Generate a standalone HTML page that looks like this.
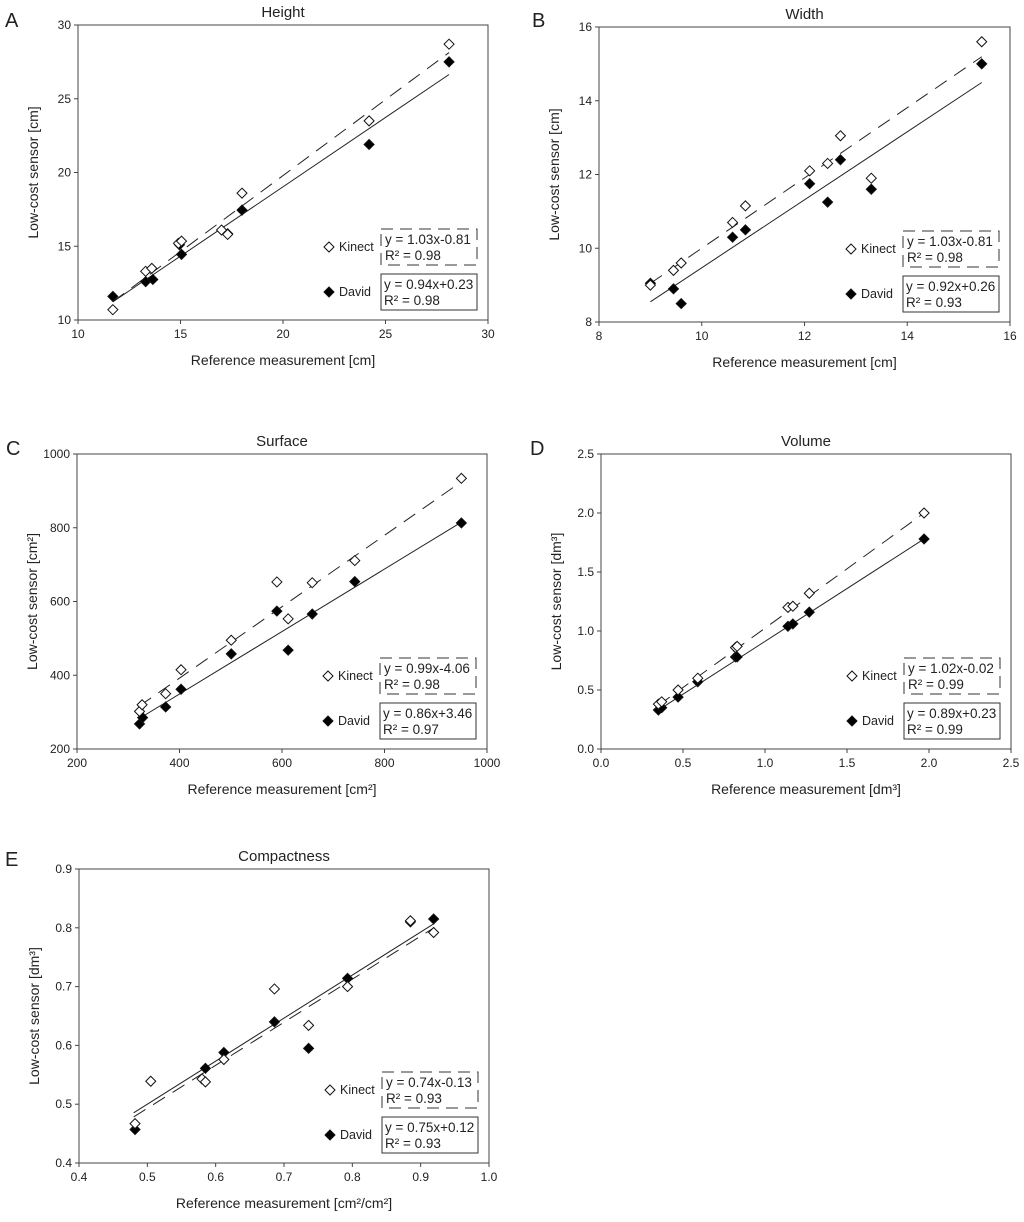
<!DOCTYPE html>
<html><head><meta charset="utf-8"><style>
body{margin:0;background:#fff;}
svg text{font-family:"Liberation Sans",Arial,sans-serif;fill:#222;}
</style></head><body>
<svg id="fig" width="1024" height="1217" viewBox="0 0 1024 1217" xmlns="http://www.w3.org/2000/svg"></svg>
<script>
// Panel A - Height
const hKinX=[11.7,13.3,13.6,14.9,15.05,17,17.3,18,24.2,28.1];
const hKinY=[10.7,13.3,13.5,15.2,15.35,16.1,15.8,18.6,23.5,28.7];
const hDavX=[11.7,13.3,13.65,14.95,15.05,17.3,18,24.2,28.1];
const hDavY=[11.6,12.6,12.75,15.1,14.45,15.85,17.45,21.9,27.5];
const hTicksX=[10,15,20,25,30];const hTicksY=[10,15,20,25,30];
const hFitK=[1.03,-0.81];const hFitD=[0.94,0.23];const hFitRange=[11.7,28.1];
// Panel B - Width
const wKinX=[9.0,9.45,9.6,10.6,10.85,12.1,12.45,12.7,13.3,15.45];
const wKinY=[9.0,9.4,9.6,10.7,11.15,12.1,12.3,13.05,11.9,15.6];
const wDavX=[9.0,9.45,9.6,10.6,10.85,12.1,12.45,12.7,13.3,15.45];
const wDavY=[9.05,8.9,8.5,10.3,10.5,11.75,11.25,12.4,11.6,15.0];
const wTicksX=[8,10,12,14,16];const wTicksY=[8,10,12,14,16];
const wFitK=[0.953,0.47];const wFitD=[0.922,0.25];const wFitRange=[9.0,15.45];
// Panel C - Surface
const sKinX=[322,327,373,403,501,590,612,659,742,950];
const sKinY=[302,320,350,415,495,653,553,651,711,934];
const sDavX=[322,328,373,403,501,590,612,659,742,950];
const sDavY=[268,285,314,362,458,574,468,566,654,813];
const sTicksX=[200,400,600,800,1000];const sTicksY=[200,400,600,800,1000];
const sFitK=[0.968,5];const sFitD=[0.847,10.3];const sFitRange=[322,950];
// Panel D - Volume
const vKinX=[0.35,0.37,0.47,0.59,0.82,0.83,1.14,1.17,1.27,1.97];
const vKinY=[0.38,0.40,0.50,0.60,0.86,0.87,1.20,1.21,1.32,2.00];
const vDavX=[0.35,0.37,0.47,0.59,0.82,0.83,1.14,1.17,1.27,1.97];
const vDavY=[0.33,0.35,0.44,0.57,0.78,0.78,1.04,1.06,1.16,1.78];
const vTicksX=["0.0","0.5","1.0","1.5","2.0","2.5"];const vTicksY=["0.0","0.5","1.0","1.5","2.0","2.5"];
const vFitK=[1.006,0.018];const vFitD=[0.895,0.017];const vFitRange=[0.35,1.97];
// Panel E - Compactness
const cKinX=[0.482,0.505,0.58,0.585,0.612,0.686,0.736,0.793,0.885,0.919];
const cKinY=[0.467,0.539,0.543,0.538,0.576,0.696,0.634,0.700,0.812,0.792];
const cDavX=[0.482,0.585,0.612,0.686,0.736,0.793,0.885,0.919];
const cDavY=[0.457,0.561,0.588,0.640,0.595,0.714,0.810,0.815];
const cTicksX=["0.4","0.5","0.6","0.7","0.8","0.9","1.0"];const cTicksY=["0.4","0.5","0.6","0.7","0.8","0.9"];
const cFitK=[0.732,0.127];const cFitD=[0.732,0.134];const cFitRange=[0.48,0.92];

const NS='http://www.w3.org/2000/svg';
const svg=document.getElementById('fig');
function mk(tag,attrs,parent,txt){const e=document.createElementNS(NS,tag);for(const k in attrs)e.setAttribute(k,attrs[k]);if(txt!==undefined)e.textContent=txt;(parent||svg).appendChild(e);return e;}

function panel(p){
  const g=mk('g',{});
  
  
  const L=p.box[0],R=p.box[1],T=p.box[2],B=p.box[3];
  const x0=+p.tx[0],x1=+p.tx[p.tx.length-1],y0=+p.ty[0],y1=+p.ty[p.ty.length-1];
  const sx=v=>L+(v-x0)/(x1-x0)*(R-L);
  const sy=v=>B-(v-y0)/(y1-y0)*(B-T);
  const lt=mk('text',{x:p.letter[0],y:p.letter[1],'font-size':20},g,p.letterText);
  
  
  const tt=mk('text',{x:(L+R)/2,y:T-8,'font-size':15,'text-anchor':'middle'},g,p.title);
  
  
  const box=mk('rect',{x:L,y:T,width:R-L,height:B-T,fill:'none',stroke:'#444','stroke-width':1},g);
  
  
  p.tx.forEach(t=>{const x=sx(+t);
    mk('line',{x1:x,x2:x,y1:B,y2:B+4,stroke:'#444'},g);
    const e=mk('text',{x:x,y:B+18,'font-size':12,'text-anchor':'middle'},g,t);
    
    });
  p.ty.forEach(t=>{const y=sy(+t);
    mk('line',{x1:L-4,x2:L,y1:y,y2:y,stroke:'#444'},g);
    const e=mk('text',{x:L-7,y:y+4,'font-size':12,'text-anchor':'end'},g,t);
    
    });
  const xt=mk('text',{x:(L+R)/2,y:B+45,'font-size':14,'text-anchor':'middle'},g,p.xlabel);
  
  
  const yc=L-40,ym=(T+B)/2;
  const yt=mk('text',{x:yc,y:ym,'font-size':14,'text-anchor':'middle',transform:`rotate(-90 ${yc} ${ym})`},g,p.ylabel);
  
  
  const fr=p.fitRange;
  const lk=mk('line',{x1:sx(fr[0]),y1:sy(p.fitK[0]*fr[0]+p.fitK[1]),x2:sx(fr[1]),y2:sy(p.fitK[0]*fr[1]+p.fitK[1]),stroke:'#222','stroke-width':1,'stroke-dasharray':'14,9'},g);
  
  
  const ld=mk('line',{x1:sx(fr[0]),y1:sy(p.fitD[0]*fr[0]+p.fitD[1]),x2:sx(fr[1]),y2:sy(p.fitD[0]*fr[1]+p.fitD[1]),stroke:'#222','stroke-width':1},g);
  
  
  function diamond(cx,cy,fill,parent){return mk('path',{d:`M${cx} ${cy-5}L${cx+5} ${cy}L${cx} ${cy+5}L${cx-5} ${cy}Z`,fill:fill,stroke:'#111','stroke-width':1},parent);}
  p.dx.forEach((v,i)=>{const d=diamond(sx(v),sy(p.dy[i]),'#000',g);
    
    });
  p.kx.forEach((v,i)=>{const d=diamond(sx(v),sy(p.ky[i]),'#fff',g);
    
    });
  const bx=R-107,bw=96,kt=B-91,dt=B-46,bh=36;
  const kb=mk('rect',{x:bx,y:kt,width:bw,height:bh,fill:'#fff',stroke:'#333','stroke-dasharray':'12,7'},g);
  
  
  mk('text',{x:bx+4,y:kt+15,'font-size':13.5},g,p.eqK[0]);
  mk('text',{x:bx+4,y:kt+31,'font-size':13.5},g,p.eqK[1]);
  const db=mk('rect',{x:bx,y:dt,width:bw,height:bh,fill:'#fff',stroke:'#333'},g);
  
  
  mk('text',{x:bx+3,y:dt+15,'font-size':13.5},g,p.eqD[0]);
  mk('text',{x:bx+3,y:dt+31,'font-size':13.5},g,p.eqD[1]);
  const km=diamond(R-159,kt+18,'#fff',g);
  
  
  mk('text',{x:R-149,y:kt+22,'font-size':12.5},g,'Kinect');
  const dm=diamond(R-159,dt+18,'#000',g);
  
  
  mk('text',{x:R-149,y:dt+22,'font-size':12.5},g,'David');
}

panel({id:'height',letterText:'A',letter:[5,27],title:'Height',box:[78,488,25,320],tx:hTicksX,ty:hTicksY,
  xlabel:'Reference measurement [cm]',ylabel:'Low-cost sensor [cm]',kx:hKinX,ky:hKinY,dx:hDavX,dy:hDavY,
  fitK:hFitK,fitD:hFitD,fitRange:hFitRange,eqK:['y = 1.03x-0.81','R² = 0.98'],eqD:['y = 0.94x+0.23','R² = 0.98']});
panel({id:'width',letterText:'B',letter:[532,27],title:'Width',box:[599,1010,27,322],tx:wTicksX,ty:wTicksY,
  xlabel:'Reference measurement [cm]',ylabel:'Low-cost sensor [cm]',kx:wKinX,ky:wKinY,dx:wDavX,dy:wDavY,
  fitK:wFitK,fitD:wFitD,fitRange:wFitRange,eqK:['y = 1.03x-0.81','R² = 0.98'],eqD:['y = 0.92x+0.26','R² = 0.93']});
panel({id:'surface',letterText:'C',letter:[6,455],title:'Surface',box:[77,487,454,749],tx:sTicksX,ty:sTicksY,
  xlabel:'Reference measurement [cm²]',ylabel:'Low-cost sensor [cm²]',kx:sKinX,ky:sKinY,dx:sDavX,dy:sDavY,
  fitK:sFitK,fitD:sFitD,fitRange:sFitRange,eqK:['y = 0.99x-4.06','R² = 0.98'],eqD:['y = 0.86x+3.46','R² = 0.97']});
panel({id:'volume',letterText:'D',letter:[530,455],title:'Volume',box:[601,1011,454,749],tx:vTicksX,ty:vTicksY,
  xlabel:'Reference measurement [dm³]',ylabel:'Low-cost sensor [dm³]',kx:vKinX,ky:vKinY,dx:vDavX,dy:vDavY,
  fitK:vFitK,fitD:vFitD,fitRange:vFitRange,eqK:['y = 1.02x-0.02','R² = 0.99'],eqD:['y = 0.89x+0.23','R² = 0.99']});
panel({id:'compactness',letterText:'E',letter:[5,866],title:'Compactness',box:[79,489,869,1163],tx:cTicksX,ty:cTicksY,
  xlabel:'Reference measurement [cm²/cm²]',ylabel:'Low-cost sensor [dm³]',kx:cKinX,ky:cKinY,dx:cDavX,dy:cDavY,
  fitK:cFitK,fitD:cFitD,fitRange:cFitRange,eqK:['y = 0.74x-0.13','R² = 0.93'],eqD:['y = 0.75x+0.12','R² = 0.93']});
</script>
</body></html>
